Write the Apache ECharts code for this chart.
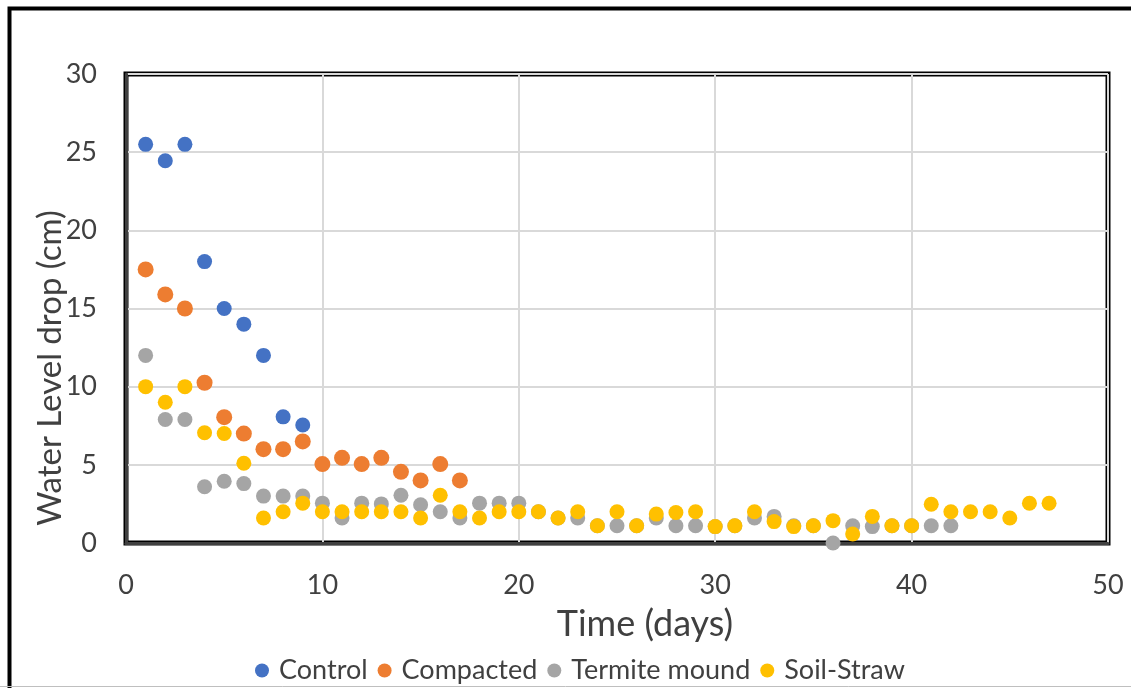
<!DOCTYPE html>
<html><head><meta charset="utf-8">
<script src="https://cdn.jsdelivr.net/npm/echarts@6/dist/echarts.min.js"></script>
<style>html,body{margin:0;padding:0;background:#fff}#c{width:1131px;height:688px}</style>
</head><body><div id="c"></div>
<script>
const seriesNames = ['Control', 'Compacted', 'Termite mound', 'Soil-Straw'];
const colors = ['#4472C4', '#ED7D31', '#A5A5A5', '#FFC000'];
// values for consecutive days starting at day 1
const control = [25.5, 24.45, 25.5, 18, 15, 14, 12, 8.07, 7.55];
const compacted = [17.5, 15.9, 15.0, 10.25, 8.05, 7.0, 6.0, 6.0, 6.5, 5.05, 5.45, 5.05, 5.45, 4.55, 4.0, 5.05, 4.0];
const termite = [12, 7.9, 7.9, 3.6, 3.95, 3.8, 3.0, 3.0, 3.0, 2.55, 1.6, 2.55, 2.5, 3.05, 2.45, 2.0, 1.6, 2.55, 2.55, 2.55,
  2.0, 1.6, 1.6, 1.1, 1.1, 1.1, 1.6, 1.1, 1.1, 1.05, 1.1, 1.6, 1.7, 1.1, 1.1, 0, 1.1, 1.05, 1.1, 1.1, 1.1, 1.1];
const soilStraw = [10, 9, 10, 7.05, 7, 5.1, 1.6, 2.0, 2.55, 2.0, 2.0, 2.0, 2.0, 2.0, 1.6, 3.05, 2.0, 1.6, 2.0, 2.0,
  2.0, 1.6, 2.0, 1.1, 2.0, 1.1, 1.85, 1.95, 2.0, 1.05, 1.1, 2.0, 1.37, 1.05, 1.1, 1.43, 0.58, 1.7, 1.1, 1.1,
  2.48, 2.0, 2.0, 2.0, 1.6, 2.54, 2.54];
const xTitle = 'Time (days)';
const yTitle = 'Water Level drop (cm)';

const allValues = [control, compacted, termite, soilStraw];
const toPairs = arr => arr.map((v, i) => [i + 1, v]);
const FONT = 'Lato';

const chart = echarts.init(document.getElementById('c'), null, {renderer: 'canvas'});
chart.setOption({
  animation: false,
  backgroundColor: '#fff',
  grid: {left: 126, right: 23, top: 74, bottom: 145, show: true, borderColor: '#000', borderWidth: 5, backgroundColor: 'transparent'},
  xAxis: {
    type: 'value', min: 0, max: 50, interval: 10,
    axisLine: {show: true, onZero: false, lineStyle: {color: '#404040', width: 3}},
    axisTick: {show: false},
    axisLabel: {color: '#404040', fontFamily: FONT, fontSize: 27, margin: 29},
    splitLine: {show: true, lineStyle: {color: '#d9d9d9', width: 2}}
  },
  yAxis: {
    type: 'value', min: 0, max: 30, interval: 5,
    axisLine: {show: true, onZero: false, lineStyle: {color: '#404040', width: 3}},
    axisTick: {show: false},
    axisLabel: {color: '#404040', fontFamily: FONT, fontSize: 27, margin: 29},
    splitLine: {show: true, lineStyle: {color: '#d9d9d9', width: 2}}
  },
  legend: {
    data: seriesNames, left: 250, top: 652, icon: 'circle', itemWidth: 14, itemHeight: 14, itemGap: 10,
    textStyle: {color: '#404040', fontFamily: FONT, fontSize: 27, padding: [0, 0, 0, 5]}
  },
  series: seriesNames.map((n, i) => ({
    name: n, type: 'scatter', data: toPairs(allValues[i]),
    symbol: 'circle', symbolSize: i === 1 ? 16 : 15,
    itemStyle: {color: colors[i], opacity: 1},
    z: 3 + i
  })),
  graphic: [
    {type: 'rect', shape: {x: 9.5, y: 8.5, width: 1200, height: 800}, style: {fill: 'none', stroke: '#000', lineWidth: 4}, z: 100},
    {type: 'line', shape: {x1: 0, y1: 686.5, x2: 1131, y2: 686.5}, style: {stroke: '#bfbfbf', lineWidth: 1}, z: 100},
    {type: 'text', x: 645, y: 624, style: {text: xTitle, fill: '#404040', font: '36px ' + FONT, align: 'center', verticalAlign: 'middle'}},
    {type: 'text', x: 50, y: 368, rotation: Math.PI / 2, style: {text: yTitle, fill: '#404040', font: '33px ' + FONT, align: 'center', verticalAlign: 'middle'}}
  ]
});
</script></body></html>
